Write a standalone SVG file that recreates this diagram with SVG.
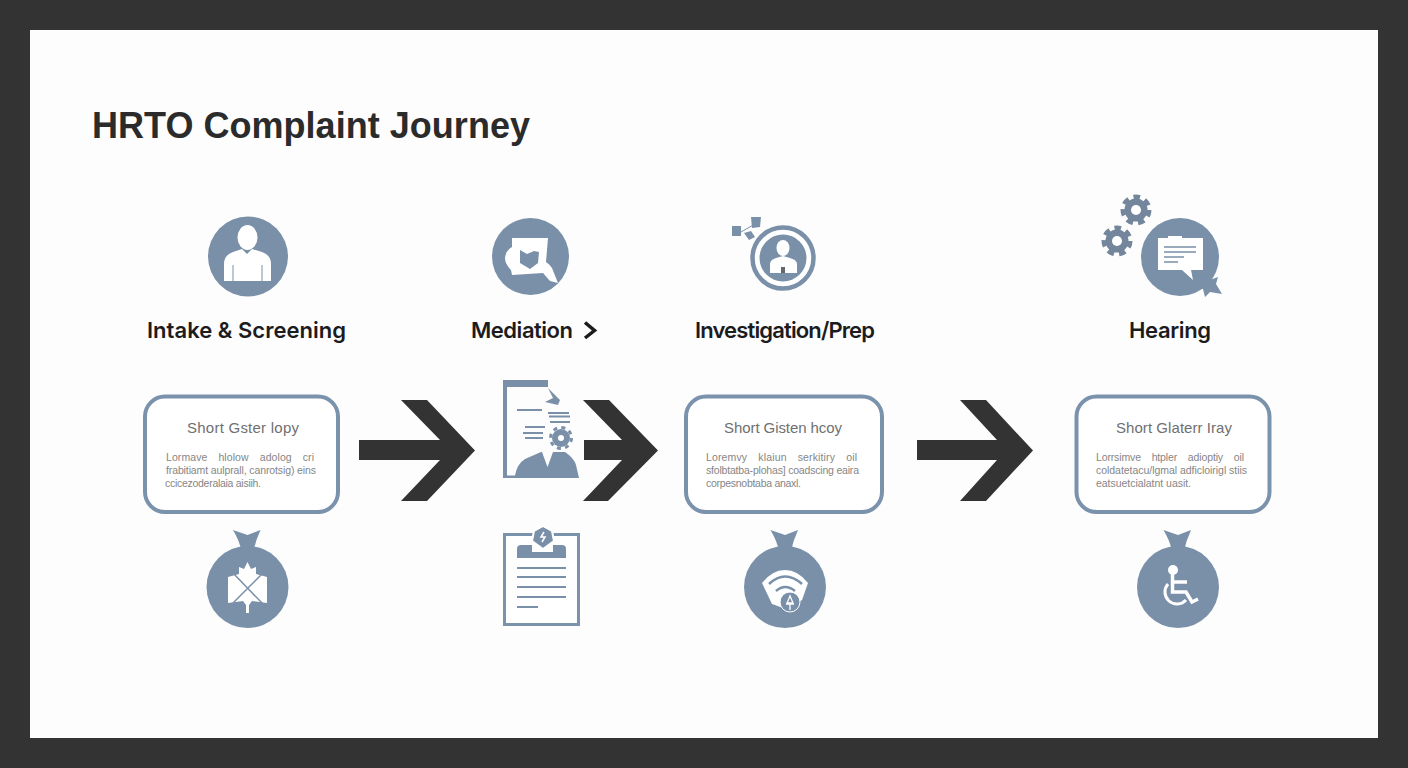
<svg xmlns="http://www.w3.org/2000/svg" width="1408" height="768" viewBox="0 0 1408 768">
<style>
.title{font:700 36px "Liberation Sans",Arial,sans-serif;fill:#2b2b2b}
.label{font:600 22px Inter,"Liberation Sans",sans-serif;fill:#1c1c1e}
.head{font:400 15px "Liberation Sans",Arial,sans-serif;fill:#707070}
.body{font:400 10.5px "Liberation Sans",Arial,sans-serif;fill:#868686}
.card{fill:#fff;stroke:#7a92ab;stroke-width:4}
.b{fill:#7a90a9}
.w{fill:#fff}
.ln{stroke:#7a90a9;stroke-width:2;fill:none}
.arrow{fill:#333}
</style>
<defs>
<g id="gear"><circle r="11.500" fill="#73869c"/><circle r="13" fill="none" stroke="#73869c" stroke-width="5" stroke-dasharray="6.500 5.170"/><circle r="5" fill="#fff"/></g>
<path id="knot" class="b" d="M-14.500 -57L0 -52L13 -57Q8 -46 6 -36L-6 -36Q-8 -46 -14.500 -57Z"/>
</defs>
<rect width="1408" height="768" fill="#333"/>
<rect x="30" y="30" width="1348" height="708" fill="#fdfdfd"/>
<text class="title" x="92" y="138" textLength="438">HRTO Complaint Journey</text>

<g id="connectors">
<path class="arrow" d="M359 440H440L401 400H427L475 450.500L427 501H401L440 460H359Z"/>
<path class="arrow" d="M584 440H622L583 400H609L658 450.500L608 501H583L622 460H584Z"/>
<path class="arrow" d="M917 440H997L960 400H986L1033 450.500L986 501H960L997 460H917Z"/>
</g>

<g id="node-intake">
<circle class="b" cx="248" cy="256.500" r="40"/>
<ellipse class="w" cx="247.500" cy="237.500" rx="10" ry="12.500"/>
<path class="w" d="M224 281V264Q224 255 233 252L242 249L247 254L252 249L262 252Q271 255 271 264V281Z"/>
<path d="M233 265V281M262 265V281" stroke="#7a90a9" stroke-width="1"/>
<text class="label" x="147" y="338" textLength="199">Intake &amp; Screening</text>
<rect class="card" x="145" y="396.500" width="193" height="115.500" rx="20"/>
<text class="head" x="187" y="433" textLength="112">Short Gster lopy</text>
<text class="body" x="166" y="461" textLength="148" word-spacing="8">Lormave hlolow adolog cri</text>
<text class="body" x="166" y="474" textLength="150">frabitiamt aulprall, canrotsig) eins</text>
<text class="body" x="165" y="487" textLength="96">ccicezoderalaia aisiih.</text>
<use href="#knot" x="247.500" y="587"/>
<circle class="b" cx="247.500" cy="587" r="41"/>
<path class="w" d="M247.500 562L251 569L256 567L256 574L267 577V603L252 601L249 605V613H246V605L243 601L228 603V577L239 574L239 567L244 569Z"/>
<path d="M232 572L262 603M263 573L233 603" stroke="#7a90a9" stroke-width="1.500" fill="none"/>
</g>

<g id="node-mediation">
<circle class="b" cx="530.500" cy="256.500" r="38.500"/>
<path class="w" d="M512 238H548L546 262Q549 264 552 268L558 283L550 281L543 273L512 275L511 270Q505 264 505 258Q506 250 512 247Z"/>
<path class="b" d="M520 250L527 254L534 251L539 252L538 263L530 269L520 263Z"/>
<text class="label" x="471" y="338" textLength="102">Mediation</text>
<path d="M585 322.500L594.500 330.500L585 338" fill="none" stroke="#1c1c1e" stroke-width="3.500"/>
<path class="b" d="M503 380H548V387H507V475.500H515Q517 464 525 459L541 452H565Q574 458 576 465L579 478H503Z"/>
<path class="w" d="M542 452L547.500 467L553 452Z"/>
<path class="b" d="M548 388L560 400L558 405L545 402L553 398Z"/>
<path class="ln" d="M517 410H542M548 413H569M549 416.500H570M550 422H570M525 427H545M523 433H543M525 438H543"/>
<g transform="translate(561 438)"><circle r="9" fill="#7a90a9"/><circle r="10.500" fill="none" stroke="#7a90a9" stroke-width="3" stroke-dasharray="4 4.250"/><circle r="3" fill="#fff"/></g>
<rect class="w" x="504.500" y="534.500" width="74" height="90" fill="none" stroke="#7a92ab" stroke-width="3"/>
<path class="b" d="M517 558V549Q517 545 521 545H562Q566 545 566 549V558Z"/>
<rect class="w" x="532" y="544" width="21" height="8"/>
<path class="b" d="M543 526L552 531L554 541L543 549L532 541L534 531Z" stroke="#fff" stroke-width="2" stroke-linejoin="round"/>
<path d="M544 532L541 537H545L542 542" stroke="#fff" stroke-width="1.500" fill="none"/>
<path class="ln" d="M517 568H566M517 577H566M517 587H566M517 597H566M517 607H538"/>
</g>

<g id="node-investigation">
<path d="M741 232L755 224" stroke="#7a90a9" stroke-width="1"/>
<rect class="b" x="732" y="226" width="9" height="10"/>
<path class="b" d="M751 217L761 217L760 227L752 228Z"/>
<path class="b" d="M744 233L751 231L755 237L749 240Z"/>
<circle cx="783" cy="258" r="30.500" fill="#fff" stroke="#7a90a9" stroke-width="4.500"/>
<circle class="b" cx="783" cy="258" r="23.500"/>
<ellipse class="w" cx="783" cy="248" rx="6.500" ry="8"/>
<path class="w" d="M770 273V264Q770 260 776 258L783 256L790 258Q797 260 797 264V273Z"/>
<rect x="781" y="267" width="4" height="6" fill="#5f6a70"/>
<text class="label" x="695" y="338" textLength="180">Investigation/Prep</text>
<rect class="card" x="686" y="396.500" width="196" height="115.500" rx="20"/>
<text class="head" x="724" y="433" textLength="118">Short Gisten hcoy</text>
<text class="body" x="706" y="461" textLength="151" word-spacing="8">Loremvy klaiun serkitiry oil</text>
<text class="body" x="706" y="474" textLength="153">sfolbtatba-plohas] coadscing eaira</text>
<text class="body" x="706" y="487" textLength="95">corpesnobtaba anaxl.</text>
<use href="#knot" x="785" y="587"/>
<circle class="b" cx="785" cy="587" r="41"/>
<path class="w" d="M762 583Q772 570 785 570Q798 570 808 583L802 600L786 609L772 604Z"/>
<path d="M769 584Q785 569 802 584M776 591Q785 583 795 591" stroke="#7a90a9" stroke-width="2.500" fill="none"/>
<circle class="b" cx="790" cy="602" r="10" stroke="#fff" stroke-width="1"/>
<path d="M790 596L787 603H793ZM790 603V610M786 604H794" stroke="#fff" stroke-width="1.300" fill="none"/>
</g>

<g id="node-hearing">
<use href="#gear" x="1136" y="210"/>
<use href="#gear" x="1117" y="241"/>
<circle class="b" cx="1180" cy="257" r="39"/>
<path class="b" d="M1198 285L1210 280L1218 277L1216 284L1222 294L1210 292L1205 297L1203 289Z"/>
<path class="w" d="M1158 238H1168V236H1182V238H1203V270H1191L1193 280L1182 270H1158Z"/>
<path d="M1164 247H1196M1164 252H1196M1164 257H1184M1164 262H1178" stroke="#7a90a9" stroke-width="1.500" fill="none"/>
<text class="label" x="1129" y="338" textLength="82">Hearing</text>
<rect class="card" x="1076.500" y="396.500" width="193" height="115.500" rx="20"/>
<text class="head" x="1116" y="433" textLength="116">Short Glaterr Iray</text>
<text class="body" x="1096" y="461" textLength="148" word-spacing="8">Lorrsimve htpler adioptiy oil</text>
<text class="body" x="1096" y="474" textLength="151">coldatetacu/lgmal adficloirigl stiis</text>
<text class="body" x="1096" y="487" textLength="95">eatsuetcialatnt uasit.</text>
<use href="#knot" x="1178" y="587"/>
<circle class="b" cx="1178" cy="587" r="41"/>
<circle class="w" cx="1173" cy="570" r="5"/>
<path d="M1172.500 574V592H1186L1192 602L1198 599M1172.500 582H1187" stroke="#fff" stroke-width="3.500" fill="none"/>
<path d="M1168 584A11.500 11.500 0 1 0 1186 600" stroke="#fff" stroke-width="3" fill="none"/>
</g>
</svg>
